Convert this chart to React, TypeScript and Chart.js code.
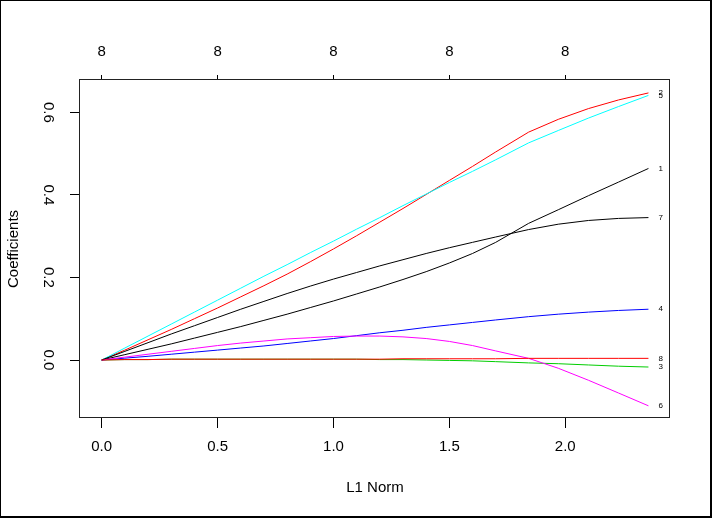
import React, { useEffect, useRef } from "react";
import { Chart, registerables } from "chart.js";

Chart.register(...registerables);

// L1 norm of the coefficient vector along the path
const xNorm = [0, 0.1, 0.2, 0.3, 0.4, 0.5, 0.6, 0.7, 0.8, 0.9, 1.0, 1.1, 1.2, 1.3, 1.4, 1.5, 1.6, 1.7, 1.842, 1.97, 2.1, 2.23, 2.359];

// Coefficient paths (variables 1..8)
const coef1 = [0, 0.013, 0.026, 0.039, 0.053, 0.067, 0.081, 0.096, 0.111, 0.127, 0.143, 0.16, 0.177, 0.195, 0.214, 0.235, 0.258, 0.285, 0.331, 0.364, 0.398, 0.431, 0.464];
const coef2 = [0, 0.024, 0.049, 0.074, 0.1, 0.126, 0.153, 0.18, 0.208, 0.238, 0.269, 0.301, 0.334, 0.367, 0.401, 0.435, 0.469, 0.504, 0.552, 0.583, 0.609, 0.63, 0.647];
const coef3 = [0, 0.001, 0.001, 0.002, 0.002, 0.002, 0.002, 0.002, 0.002, 0.002, 0.002, 0.002, 0.001, 0.001, 0.0, -0.001, -0.002, -0.004, -0.007, -0.009, -0.012, -0.015, -0.017];
const coef4 = [0, 0.0045, 0.009, 0.014, 0.019, 0.024, 0.029, 0.034, 0.04, 0.046, 0.052, 0.059, 0.066, 0.072, 0.079, 0.085, 0.091, 0.097, 0.105, 0.111, 0.116, 0.12, 0.123];
const coef5 = [0, 0.029, 0.058, 0.087, 0.116, 0.145, 0.174, 0.203, 0.231, 0.26, 0.288, 0.317, 0.345, 0.374, 0.402, 0.43, 0.457, 0.485, 0.526, 0.556, 0.586, 0.614, 0.641];
const coef6 = [0, 0.007, 0.014, 0.021, 0.028, 0.035, 0.041, 0.046, 0.051, 0.054, 0.057, 0.058, 0.058, 0.056, 0.052, 0.045, 0.035, 0.022, 0.004, -0.02, -0.049, -0.08, -0.111];
const coef7 = [0, 0.021, 0.042, 0.063, 0.083, 0.103, 0.123, 0.142, 0.161, 0.179, 0.196, 0.212, 0.228, 0.243, 0.258, 0.272, 0.285, 0.298, 0.316, 0.329, 0.338, 0.343, 0.345];
const coef8 = [0, 0.001, 0.001, 0.002, 0.002, 0.002, 0.002, 0.002, 0.002, 0.002, 0.002, 0.002, 0.002, 0.003, 0.003, 0.003, 0.003, 0.003, 0.004, 0.004, 0.004, 0.004, 0.004];

const seriesValues = [coef1, coef2, coef3, coef4, coef5, coef6, coef7, coef8];
const seriesLabels = ["1", "2", "3", "4", "5", "6", "7", "8"];
const seriesColors = ["#000000", "#FF0000", "#00CD00", "#0000FF", "#00FFFF", "#FF00FF", "#000000", "#FF0000"];

const bottomTicks = [0, 0.5, 1.0, 1.5, 2.0];
const topTickLabels = ["8", "8", "8", "8", "8"];
const yTicks = [0, 0.2, 0.4, 0.6];

const X_MIN = -0.0936;
const X_MAX = 2.452;
const Y_MIN = -0.1405;
const Y_MAX = 0.6783;

export default function App() {
  const ref = useRef<HTMLCanvasElement | null>(null);

  useEffect(() => {
    if (!ref.current) return;
    const family = "'Liberation Sans', Arial, Helvetica, sans-serif";
    const font = { family, size: 15 };

    const endLabels = {
      id: "endLabels",
      afterDatasetsDraw(chart: any) {
        const ctx = chart.ctx;
        ctx.save();
        ctx.font = `8px ${family}`;
        ctx.fillStyle = "#000";
        ctx.textAlign = "left";
        ctx.textBaseline = "middle";
        chart.data.datasets.forEach((ds: any, i: number) => {
          const meta = chart.getDatasetMeta(i);
          const pt = meta.data[meta.data.length - 1];
          if (pt) ctx.fillText(ds.label, pt.x + 10, pt.y);
        });
        ctx.restore();
      },
    };

    const frame = {
      id: "frame",
      afterDraw(chart: any) {
        const ctx = chart.ctx;
        const a = chart.chartArea;
        ctx.save();
        ctx.strokeStyle = "#222";
        ctx.lineWidth = 1;
        ctx.strokeRect(Math.round(a.left) - 0.5, Math.round(a.top) - 0.5, Math.round(a.right - a.left), Math.round(a.bottom - a.top));
        ctx.fillStyle = "#000";
        ctx.fillRect(0, 0, 712, 1);
        ctx.fillRect(0, 0, 1, 518);
        ctx.fillRect(710, 0, 2, 518);
        ctx.fillRect(0, 516, 712, 2);
        ctx.restore();
      },
    };

    const chart = new Chart(ref.current, {
      type: "line",
      data: {
        datasets: seriesValues.map((vals, i) => ({
          label: seriesLabels[i],
          data: xNorm.map((x, j) => ({ x, y: vals[j] })),
          borderColor: seriesColors[i],
          backgroundColor: seriesColors[i],
          borderWidth: 1,
          pointRadius: 0,
          tension: 0,
          fill: false,
          order: seriesValues.length - i,
        })),
      },
      options: {
        animation: false,
        responsive: false,
        events: [],
        layout: { padding: { left: 0, right: 42, top: 0, bottom: 0 } },
        plugins: { legend: { display: false }, tooltip: { enabled: false } },
        scales: {
          x: {
            type: "linear",
            position: "bottom",
            min: X_MIN,
            max: X_MAX,
            afterBuildTicks: (s: any) => {
              s.ticks = bottomTicks.map((v) => ({ value: v }));
            },
            afterFit: (s: any) => {
              s.height = 100;
            },
            grid: { drawOnChartArea: false, drawTicks: true, tickLength: 10, color: "#000", lineWidth: 1 },
            border: { display: false },
            ticks: {
              font,
              color: "#000",
              padding: 10,
              autoSkip: false,
              maxRotation: 0,
              callback: (v: any) => Number(v).toFixed(1),
            },
            title: { display: true, text: "L1 Norm", font, color: "#000", padding: { top: 0, bottom: 21 } },
          },
          x2: {
            type: "linear",
            position: "top",
            min: X_MIN,
            max: X_MAX,
            afterBuildTicks: (s: any) => {
              s.ticks = bottomTicks.map((v) => ({ value: v }));
            },
            afterFit: (s: any) => {
              s.height = 80;
            },
            grid: { drawOnChartArea: false, drawTicks: true, tickLength: 5, color: "#000", lineWidth: 1 },
            border: { display: false },
            ticks: {
              font,
              color: "#000",
              padding: 14,
              autoSkip: false,
              maxRotation: 0,
              callback: (_v: any, i: number) => topTickLabels[i],
            },
          },
          y: {
            type: "linear",
            position: "left",
            min: Y_MIN,
            max: Y_MAX,
            afterBuildTicks: (s: any) => {
              s.ticks = yTicks.map((v) => ({ value: v }));
            },
            afterFit: (s: any) => {
              s.width = 80;
            },
            grid: { drawOnChartArea: false, drawTicks: true, tickLength: 10, color: "#000", lineWidth: 1 },
            border: { display: false },
            ticks: {
              font,
              color: "#000",
              padding: 11,
              autoSkip: false,
              minRotation: -90,
              maxRotation: -90,
              crossAlign: "center",
              callback: (v: any) => Number(v).toFixed(1),
            },
            title: { display: true, text: "Coefficients", font, color: "#000", padding: { top: 5, bottom: 0 } },
          },
        },
      },
      plugins: [endLabels, frame],
    } as any);

    return () => chart.destroy();
  }, []);

  return (
    <div style={{ position: "absolute", left: 0, top: 0, width: 712, height: 518, background: "#fff" }}>
      <canvas ref={ref} width={712} height={518} style={{ display: "block" }} />
    </div>
  );
}
